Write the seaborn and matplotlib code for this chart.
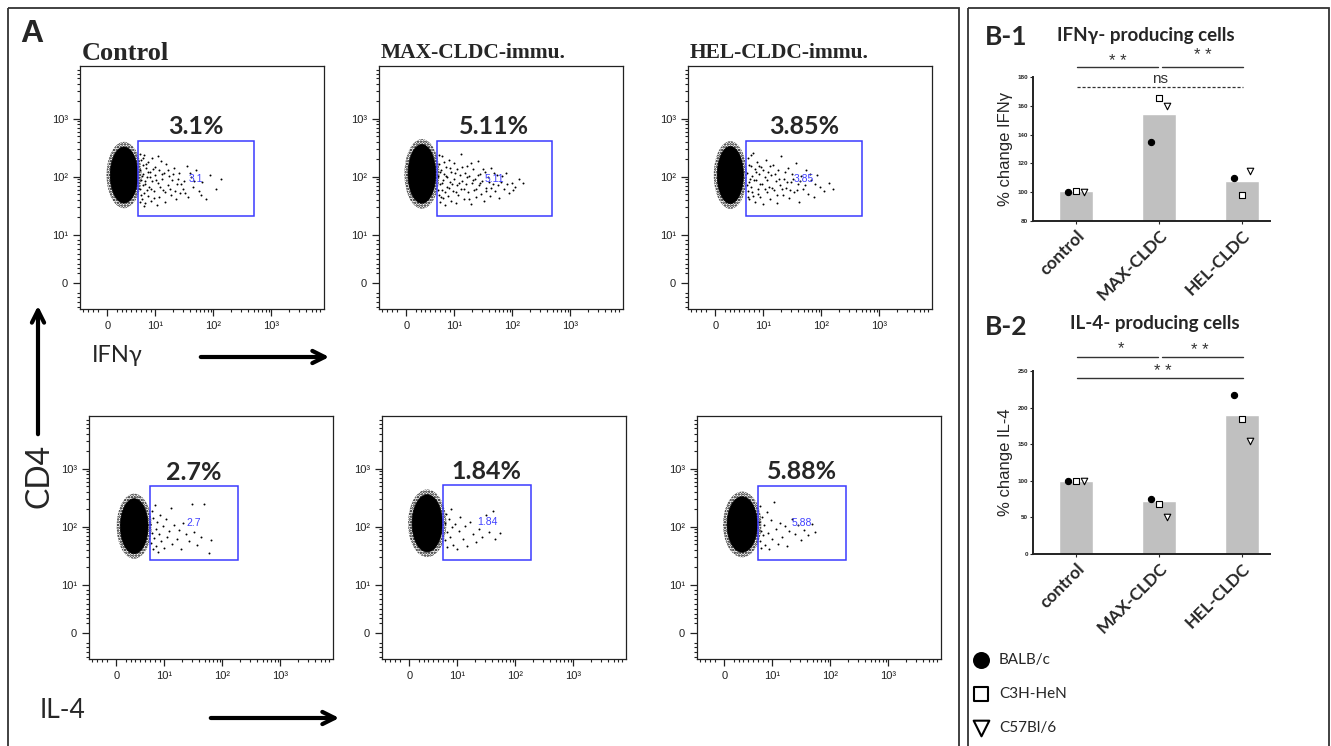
import numpy as np
import seaborn as sns
import matplotlib
matplotlib.use("Agg")
import matplotlib.pyplot as plt
from matplotlib.patches import Ellipse, Rectangle

# ---------------- data ----------------
# flow plots: values are in axis channel units (0 -> "0", 0.83 -> 10^1, 1.83 -> 10^2, 2.83 -> 10^3)
panel_titles = ["Control", "MAX-CLDC-immu.", "HEL-CLDC-immu."]
pct_labels = ["3.1%", "5.11%", "3.85%", "2.7%", "1.84%", "5.88%"]
gate_labels = ["3.1", "5.11", "3.85", "2.7", "1.84", "5.88"]

# gates: x0, x1, y0, y1
gate_x0 = [0.53, 0.53, 0.53, 0.58, 0.58, 0.58]
gate_x1 = [2.53, 2.51, 2.53, 2.10, 2.10, 2.10]
gate_y0 = [1.15, 1.15, 1.15, 1.25, 1.26, 1.25]
gate_y1 = [2.45, 2.45, 2.45, 2.53, 2.55, 2.54]

# dense cluster of CD4+ cytokine-negative cells: centre x, centre y, width, height
blob_x = [0.29, 0.27, 0.26, 0.31, 0.31, 0.31]
blob_y = [1.86, 1.88, 1.86, 1.84, 1.89, 1.87]
blob_w = [0.53, 0.53, 0.50, 0.53, 0.58, 0.58]
blob_h = [1.04, 1.09, 1.06, 1.02, 1.06, 1.03]

ifng_ctrl_pts = [
    (0.56, 1.95), (0.57, 1.62), (0.58, 2.12), (0.59, 1.78), (0.60, 1.45), (0.61, 2.03), (0.62, 1.88), (0.63, 1.55),
    (0.64, 2.20), (0.65, 1.70), (0.66, 1.38), (0.67, 1.98), (0.68, 1.83), (0.70, 1.50), (0.71, 2.08), (0.72, 1.65),
    (0.74, 1.92), (0.75, 1.42), (0.77, 2.15), (0.78, 1.75), (0.80, 1.58), (0.82, 1.86), (0.83, 2.00), (0.85, 1.35),
    (0.87, 1.72), (0.89, 1.95), (0.90, 1.48), (0.92, 2.10), (0.94, 1.80), (0.96, 1.60), (0.98, 1.90), (1.00, 1.40),
    (1.02, 2.05), (1.05, 1.68), (1.07, 1.85), (1.10, 1.52), (1.12, 1.77), (1.15, 1.98), (1.18, 1.44), (1.20, 1.70),
    (1.23, 1.90), (1.26, 1.55), (1.30, 1.62), (1.33, 1.75), (1.37, 2.02), (1.40, 1.48), (1.44, 1.82), (1.48, 1.66),
    (1.53, 1.95), (1.58, 1.58), (1.64, 1.74), (1.70, 1.45), (1.78, 1.86), (1.88, 1.62), (1.97, 1.80),
    (0.56, 1.40), (0.57, 2.22), (0.58, 1.52), (0.60, 1.85), (0.61, 1.68), (0.62, 2.15), (0.64, 1.32), (0.66, 1.76),
    (0.67, 2.05), (0.69, 1.60), (0.70, 1.92), (0.73, 1.82), (0.76, 1.62), (0.79, 1.96), (0.81, 1.46), (0.84, 1.78),
    (0.88, 2.18), (0.91, 1.66), (0.95, 1.88), (0.99, 1.56), (1.04, 1.94), (1.08, 1.62), (1.13, 1.88), (1.17, 1.58),
    (1.22, 1.80), (1.28, 1.70), (1.35, 1.55), (1.42, 1.90), (1.50, 1.76), (1.62, 1.52),
]
ifng_max_pts = [
    (0.55, 1.85), (0.56, 1.52), (0.57, 2.05), (0.58, 1.70), (0.59, 1.40), (0.60, 1.95), (0.61, 1.60), (0.62, 2.18),
    (0.63, 1.78), (0.64, 1.46), (0.66, 1.88), (0.67, 1.35), (0.68, 2.00), (0.70, 1.66), (0.71, 1.82), (0.72, 1.50),
    (0.74, 2.12), (0.75, 1.74), (0.77, 1.42), (0.78, 1.92), (0.80, 1.58), (0.82, 2.06), (0.83, 1.80), (0.85, 1.38),
    (0.87, 1.68), (0.88, 1.96), (0.90, 1.52), (0.92, 1.86), (0.94, 2.22), (0.95, 1.62), (0.97, 1.76), (0.99, 1.45),
    (1.01, 1.90), (1.03, 1.70), (1.05, 2.02), (1.07, 1.56), (1.09, 1.84), (1.11, 1.36), (1.13, 1.72), (1.15, 1.96),
    (1.17, 1.60), (1.19, 1.80), (1.21, 1.48), (1.23, 2.10), (1.25, 1.68), (1.27, 1.88), (1.29, 1.54), (1.31, 1.76),
    (1.34, 1.42), (1.36, 1.92), (1.38, 1.64), (1.41, 1.82), (1.44, 1.50), (1.47, 1.98), (1.50, 1.70), (1.53, 1.58),
    (1.56, 1.86), (1.60, 1.46), (1.64, 1.74), (1.68, 1.62), (1.72, 1.90), (1.77, 1.55), (1.82, 1.72), (1.88, 1.66),
    (1.95, 1.80), (2.02, 1.72),
    (0.55, 1.60), (0.56, 2.20), (0.58, 1.92), (0.60, 1.48), (0.62, 1.72), (0.65, 2.08), (0.67, 1.56), (0.69, 1.84),
    (0.73, 1.64), (0.76, 1.98), (0.79, 1.70), (0.84, 1.90), (0.86, 1.56), (0.91, 1.72), (0.96, 2.00), (1.00, 1.62),
    (1.04, 1.82), (1.08, 1.44), (1.12, 2.06), (1.16, 1.78), (1.20, 1.62), (1.24, 1.86), (1.28, 1.72), (1.33, 1.96),
    (1.37, 1.58), (1.42, 1.74), (1.46, 1.64), (1.52, 1.90), (1.58, 1.68), (1.66, 1.84), (1.74, 1.70), (1.85, 1.60),
]
ifng_hel_pts = [
    (0.55, 1.90), (0.56, 1.58), (0.57, 2.15), (0.58, 1.74), (0.59, 1.44), (0.61, 2.02), (0.62, 1.66), (0.63, 1.85),
    (0.65, 2.24), (0.66, 1.50), (0.68, 1.96), (0.69, 1.40), (0.71, 1.78), (0.72, 2.08), (0.74, 1.62), (0.76, 1.88),
    (0.78, 1.48), (0.79, 2.00), (0.81, 1.70), (0.83, 1.36), (0.85, 1.82), (0.87, 2.12), (0.89, 1.56), (0.91, 1.92),
    (0.93, 1.66), (0.95, 1.44), (0.97, 1.86), (1.00, 2.04), (1.02, 1.60), (1.04, 1.76), (1.07, 1.38), (1.09, 1.94),
    (1.12, 1.68), (1.14, 2.18), (1.17, 1.52), (1.19, 1.80), (1.22, 1.64), (1.25, 1.98), (1.28, 1.46), (1.30, 1.74),
    (1.33, 1.88), (1.36, 1.56), (1.39, 2.06), (1.42, 1.70), (1.45, 1.40), (1.48, 1.84), (1.52, 1.62), (1.56, 1.94),
    (1.60, 1.54), (1.65, 1.78), (1.70, 1.48), (1.75, 1.86), (1.81, 1.66), (1.88, 1.58), (1.96, 1.72), (2.03, 1.62),
    (0.55, 1.68), (0.57, 1.48), (0.58, 2.04), (0.60, 1.80), (0.62, 2.20), (0.64, 1.56), (0.67, 1.78), (0.70, 1.92),
    (0.73, 1.54), (0.75, 2.02), (0.77, 1.70), (0.82, 1.94), (0.86, 1.62), (0.90, 1.78), (0.94, 2.02), (0.98, 1.64),
    (1.03, 1.88), (1.06, 1.52), (1.10, 1.80), (1.15, 1.62), (1.20, 1.92), (1.24, 1.74), (1.29, 1.60), (1.35, 1.80),
    (1.41, 1.60), (1.47, 1.76), (1.55, 1.68), (1.63, 1.88), (1.72, 1.70),
]
il4_ctrl_pts = [
    (0.59, 1.88), (0.60, 1.55), (0.61, 2.10), (0.62, 1.72), (0.63, 1.45), (0.64, 1.98), (0.65, 1.64), (0.67, 2.20),
    (0.68, 1.80), (0.69, 1.50), (0.71, 1.92), (0.72, 1.40), (0.74, 1.70), (0.76, 2.04), (0.78, 1.58), (0.80, 1.84),
    (0.83, 1.46), (0.85, 1.96), (0.88, 1.66), (0.91, 1.76), (0.94, 2.16), (0.97, 1.54), (1.00, 1.86), (1.04, 1.62),
    (1.08, 1.78), (1.12, 1.44), (1.16, 1.90), (1.20, 1.70), (1.25, 1.58), (1.30, 2.22), (1.35, 1.74), (1.40, 1.52),
    (1.46, 1.66), (1.52, 2.22), (1.63, 1.60), (1.60, 1.38),
]
il4_max_pts = [
    (0.61, 1.90), (0.62, 1.60), (0.63, 2.05), (0.65, 1.74), (0.66, 1.48), (0.68, 1.96), (0.70, 1.66), (0.72, 2.14),
    (0.74, 1.82), (0.76, 1.52), (0.79, 1.88), (0.82, 1.44), (0.85, 1.76), (0.88, 2.00), (0.92, 1.62), (0.96, 1.84),
    (1.00, 1.50), (1.05, 1.92), (1.10, 1.70), (1.15, 1.56), (1.20, 1.80), (1.26, 1.66), (1.32, 2.04), (1.38, 1.74),
    (1.44, 2.10), (1.48, 1.62), (1.56, 1.72),
]
il4_hel_pts = [
    (0.60, 1.92), (0.61, 1.58), (0.62, 2.18), (0.63, 1.76), (0.64, 1.46), (0.66, 2.00), (0.67, 1.68), (0.69, 1.86),
    (0.71, 1.52), (0.73, 2.08), (0.75, 1.72), (0.78, 1.44), (0.80, 1.94), (0.83, 1.62), (0.86, 2.26), (0.89, 1.80),
    (0.92, 1.54), (0.96, 1.90), (1.00, 1.66), (1.04, 1.84), (1.08, 1.50), (1.12, 1.76), (1.17, 1.96), (1.22, 1.70),
    (1.27, 1.86), (1.32, 1.60), (1.38, 1.78), (1.45, 1.68), (1.52, 1.88), (1.56, 1.74),
]
flow_pts = [ifng_ctrl_pts, ifng_max_pts, ifng_hel_pts, il4_ctrl_pts, il4_max_pts, il4_hel_pts]

tick_pos = [0, 0.83, 1.83, 2.83]
tick_lab = ["0", "10¹", "10²", "10³"]

# bar charts
groups = ["control", "MAX-CLDC", "HEL-CLDC"]
strains = ["BALB/c", "C3H-HeN", "C57Bl/6"]
ifng_bar = [100.5, 154.5, 107.5]
ifng_balb = [100, 135, 110]
ifng_c3h = [100.5, 165.5, 98]
ifng_c57 = [100, 160, 115]
il4_bar = [100, 72.5, 189.5]
il4_balb = [100, 75, 217]
il4_c3h = [100, 68, 184]
il4_c57 = [100, 50, 155]

# ---------------- figure ----------------
sns.set_style("ticks")
plt.rcParams["font.family"] = ["Liberation Sans", "DejaVu Sans"]
plt.rcParams["hatch.linewidth"] = 1.2
CAL = ["Lato", "DejaVu Sans"]
W, H = 1331, 746
fig = plt.figure(figsize=(W / 100, H / 100), dpi=100)

bg = fig.add_axes([0, 0, 1, 1])
bg.set_xlim(0, W)
bg.set_ylim(H, 0)
bg.axis("off")


def frac(left, top, w, h):
    return [left / W, 1 - (top + h) / H, w / W, h / H]


# frames
bg.add_patch(Rectangle((8, 8), 951, 750, fill=False, ec="#333333", lw=1.3))
bg.add_patch(Rectangle((968, 8), 361, 750, fill=False, ec="#333333", lw=1.3))

minor_pos = [0.083 * v for v in (-5, -4, -3, -2, 2, 3, 4, 5, 6, 7, 8, 9)]
minor_pos += [p + np.log10(m) for p in tick_pos[1:] for m in range(2, 10)]
minor_pos = [m for m in minor_pos if m < 3.72]

rects = [(80, 66), (379, 66), (688, 66), (89, 416), (382, 416), (697, 416)]
for i, (l, t) in enumerate(rects):
    ax = fig.add_axes(frac(l, t, 244, 243))
    # speckled halo + solid core of the dense population
    ax.add_patch(Ellipse((blob_x[i], blob_y[i]), blob_w[i] * 1.14, blob_h[i] * 1.1,
                         fill=False, hatch="......", ec="black", lw=0))
    ax.add_patch(Ellipse((blob_x[i], blob_y[i]), blob_w[i] * 0.9, blob_h[i] * 0.93,
                         facecolor="black", ec="black", lw=0.5))
    xs, ys = np.array(flow_pts[i]).T
    sns.scatterplot(x=xs, y=ys, ax=ax, s=2, color="black", linewidth=0, legend=False)
    ax.add_patch(Rectangle((gate_x0[i], gate_y0[i]), gate_x1[i] - gate_x0[i], gate_y1[i] - gate_y0[i],
                           fill=False, ec="#3b3bff", lw=1.1, zorder=3))
    cx = (gate_x0[i] + gate_x1[i]) / 2
    ax.text(cx, gate_y1[i] + 0.04, pct_labels[i], ha="center", va="bottom",
            fontsize=18, fontweight="bold", family=CAL)
    ax.text(cx, (gate_y0[i] + gate_y1[i]) / 2, gate_labels[i], ha="center", va="center",
            fontsize=7.5, color="#4040ff")
    ax.set_xlim(-0.47, 3.74)
    ax.set_ylim(-0.45, 3.74)
    ax.set_xticks(tick_pos)
    ax.set_xticklabels(tick_lab, fontsize=8)
    ax.set_yticks(tick_pos)
    ax.set_yticklabels(tick_lab, fontsize=8)
    ax.set_xticks(minor_pos, minor=True)
    ax.set_yticks(minor_pos, minor=True)
    ax.tick_params(which="major", length=5, width=0.9, direction="out", colors="#222222")
    ax.tick_params(which="minor", length=2.5, width=0.8, direction="out", color="#222222")
    for s in ax.spines.values():
        s.set_linewidth(0.9)
        s.set_color("#222222")
    if i < 3:
        bg.text(l + 2, 53, panel_titles[i], ha="left", va="center", fontsize=19 if i == 0 else 15.5,
                fontweight="bold", family=["Liberation Serif", "DejaVu Serif"])

# panel A labels and arrows
bg.text(20, 34, "A", ha="left", va="center", fontsize=23, fontweight="bold")
bg.text(92, 356, "IFNγ", ha="left", va="center", fontsize=17, family=CAL)
bg.text(40, 711, "IL-4", ha="left", va="center", fontsize=19, family=CAL)
bg.text(40, 476, "CD4", ha="center", va="center", fontsize=23, rotation=90, family=CAL)
arrow = dict(arrowstyle="->", lw=3, color="black", mutation_scale=22)
bg.annotate("", xy=(332, 357), xytext=(198, 357), arrowprops=arrow)
bg.annotate("", xy=(342, 718), xytext=(208, 718), arrowprops=arrow)
bg.annotate("", xy=(38, 303), xytext=(38, 437), arrowprops=arrow)

# ---------------- panel B ----------------
marker_specs = [("o", "black"), ("s", "white"), ("v", "white")]
offsets = [-0.1, 0.0, 0.1]


def bar_panel(ax, bars, series, ylim, yticks, ylabel):
    sns.barplot(x=groups, y=bars, color="#c0c0c0", saturation=1, width=0.41, ax=ax)
    for vals, (mk, fc), off, name in zip(series, marker_specs, offsets, strains):
        ax.scatter(np.arange(3) + off, vals, marker=mk, s=20 if mk != "v" else 22, facecolor=fc,
                   edgecolor="black", linewidth=0.8, zorder=3, label=name, clip_on=False)
    ax.set_xlim(-0.52, 2.34)
    ax.set_ylim(*ylim)
    ax.set_yticks(yticks)
    ax.set_yticklabels([str(v) for v in yticks], fontsize=4.5, fontweight="bold")
    ax.set_xticks(range(3))
    ax.set_xticklabels(groups, rotation=45, ha="right", rotation_mode="anchor",
                       fontsize=12.5, fontweight="bold", family=CAL)
    ax.set_xlabel("")
    ax.set_ylabel(ylabel, fontsize=12, labelpad=3)
    sns.despine(ax=ax)
    for s in ("left", "bottom"):
        ax.spines[s].set_linewidth(1.4)
        ax.spines[s].set_color("#222222")
    ax.tick_params(axis="y", length=2, width=0.8, pad=1.5)
    ax.tick_params(axis="x", length=2.5, width=0.8, pad=2)


def sig(ax, x0, x1, y, label, ly, ls="-", lx=None):
    ax.plot([x0, x1], [y, y], color="#333333", lw=1, ls=ls, clip_on=False)
    ax.text((x0 + x1) / 2 if lx is None else lx, ly, label, ha="center", va="center",
            fontsize=12, color="#333333", clip_on=False)


ax1 = fig.add_axes(frac(1033, 77, 237, 144))
bar_panel(ax1, ifng_bar, [ifng_balb, ifng_c3h, ifng_c57], (80, 180), list(range(80, 181, 20)),
          "% change IFNγ")
sig(ax1, 0.01, 0.99, 187, "* *", 191)
sig(ax1, 1.04, 2.01, 187, "* *", 195)
ax1.plot([0.01, 2.01], [173, 173], color="#333333", lw=0.9, ls=(0, (2.5, 1.5)), clip_on=False)
ax1.text(1.01, 178.5, "ns", ha="center", va="center", fontsize=11, color="#333333")

ax2 = fig.add_axes(frac(1033, 371, 237, 183))
bar_panel(ax2, il4_bar, [il4_balb, il4_c3h, il4_c57], (0, 250), list(range(0, 251, 50)),
          "% change IL-4")
sig(ax2, 0.01, 0.99, 269, "*", 280, lx=0.54)
sig(ax2, 1.04, 2.01, 269, "* *", 278, lx=1.49)
sig(ax2, 0.01, 2.01, 240, "* *", 250, lx=1.05)

bg.text(985, 37, "B-1", ha="left", va="center", fontsize=19, fontweight="bold", family=CAL)
bg.text(1057, 36, "IFNγ- producing cells", ha="left", va="center", fontsize=13.5,
        fontweight="bold", family=CAL)
bg.text(985, 327, "B-2", ha="left", va="center", fontsize=19, fontweight="bold", family=CAL)
bg.text(1070, 323, "IL-4- producing cells", ha="left", va="center", fontsize=13.5,
        fontweight="bold", family=CAL)

handles, labels = ax1.get_legend_handles_labels()
leg = fig.legend(handles, labels, loc="upper left", bbox_to_anchor=(973 / W, 1 - 653 / H), frameon=False,
                 markerscale=2.4, prop={"family": CAL, "size": 11}, labelspacing=1.3, handletextpad=0.7,
                 handlelength=1.0, borderaxespad=0, borderpad=0)
for h in leg.legend_handles:
    h.set_linewidth(1.5)

fig.savefig("out.png", dpi=100)
